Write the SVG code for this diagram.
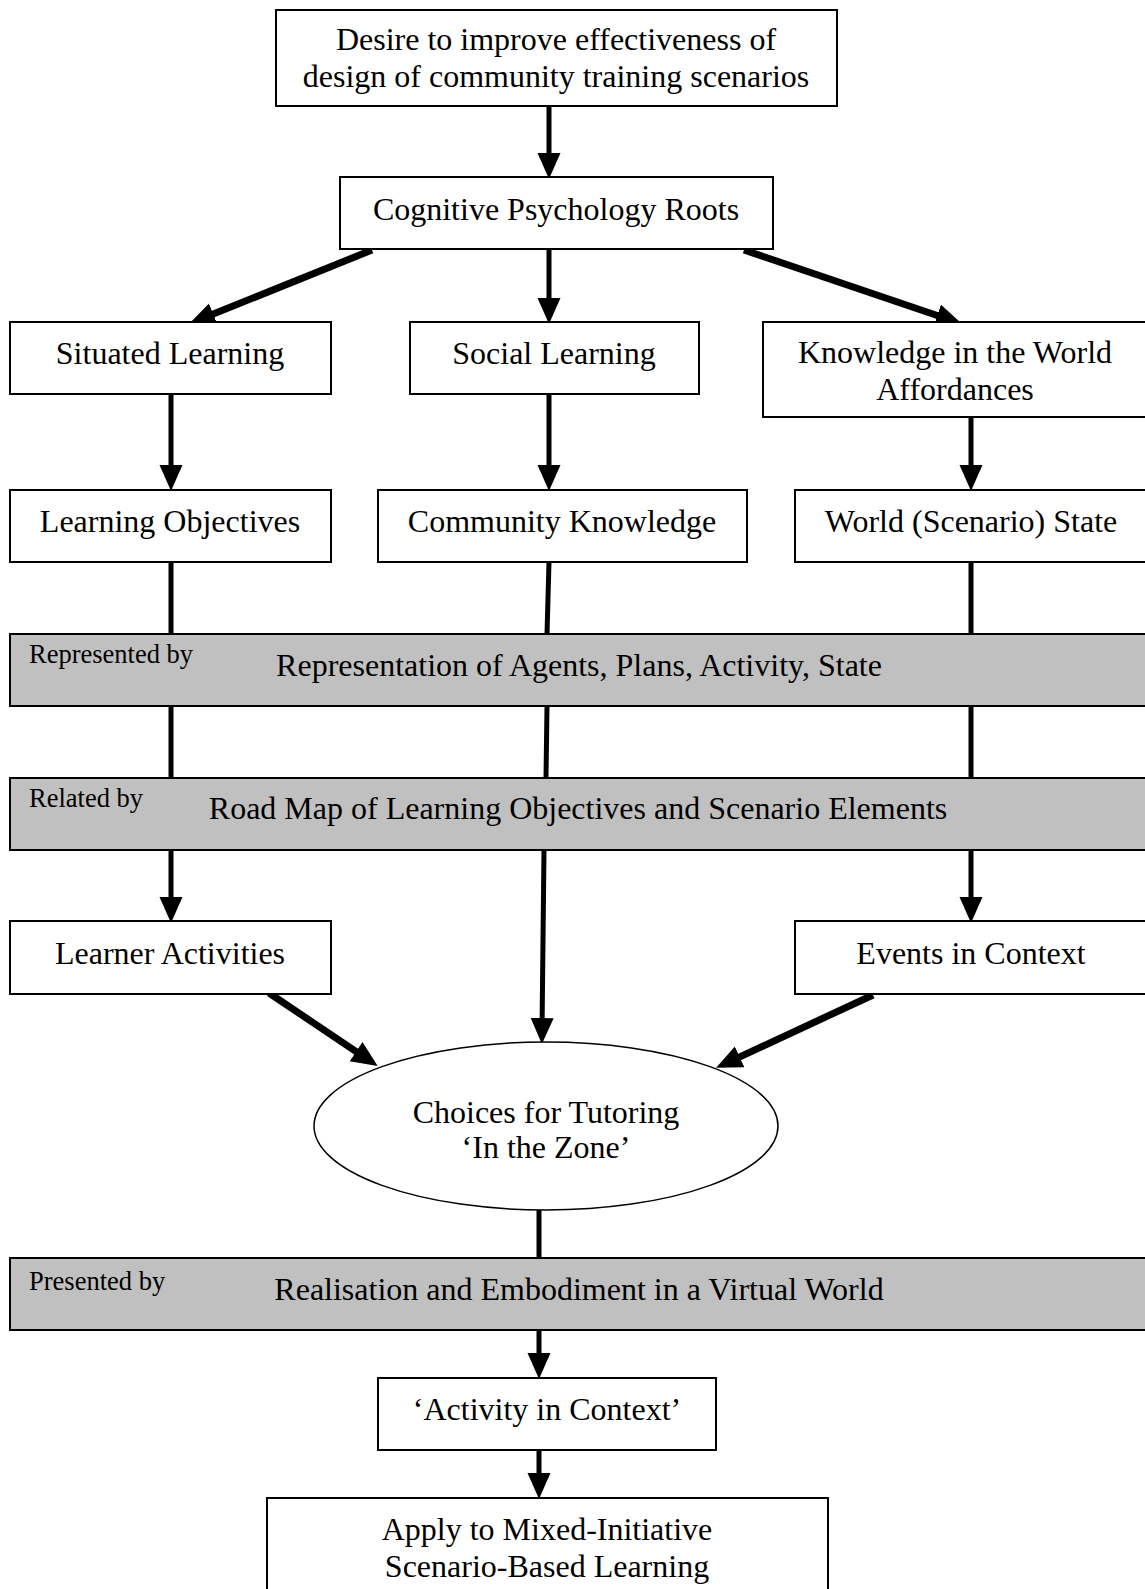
<svg xmlns="http://www.w3.org/2000/svg" width="1145" height="1589" viewBox="0 0 1145 1589">
<style>
.box{fill:#fff;stroke:#000;stroke-width:2}
.band{fill:#c0c0c0;stroke:#000;stroke-width:2}
.t{font-family:"Liberation Serif","Times New Roman",serif;font-size:32px;fill:#000;text-anchor:middle}
.s{font-family:"Liberation Serif","Times New Roman",serif;font-size:26.5px;fill:#000}
.c{stroke:#000;stroke-width:5;fill:none}
.cd{stroke:#000;stroke-width:7;fill:none}
</style>
<defs>
<marker id="ah" markerUnits="userSpaceOnUse" markerWidth="26" markerHeight="24" refX="14" refY="11.5" orient="auto" viewBox="0 0 26 24">
<path d="M0,0 L26,11.5 L0,23 z" fill="#000"/>
</marker>
</defs>
<rect width="1145" height="1589" fill="#fff"/>
<g id="connectors">
<line class="c" x1="549" y1="106" x2="549" y2="167" marker-end="url(#ah)"/>
<line class="cd" x1="372" y1="250" x2="200.3" y2="319.3" marker-end="url(#ah)"/>
<line class="c" x1="549" y1="250" x2="549" y2="312" marker-end="url(#ah)"/>
<line class="cd" x1="744" y1="250" x2="950.5" y2="320" marker-end="url(#ah)"/>
<line class="c" x1="171" y1="394" x2="171" y2="479" marker-end="url(#ah)"/>
<line class="c" x1="549" y1="394" x2="549" y2="479" marker-end="url(#ah)"/>
<line class="c" x1="971" y1="417" x2="971" y2="479" marker-end="url(#ah)"/>
<line class="c" x1="171" y1="562" x2="171" y2="634"/>
<line class="c" x1="549" y1="562" x2="547" y2="634"/>
<line class="c" x1="971" y1="562" x2="971" y2="634"/>
<line class="c" x1="171" y1="706" x2="171" y2="778"/>
<line class="c" x1="547" y1="706" x2="546" y2="778"/>
<line class="c" x1="971" y1="706" x2="971" y2="778"/>
<line class="c" x1="171" y1="850" x2="171" y2="911" marker-end="url(#ah)"/>
<line class="c" x1="971" y1="850" x2="971" y2="911" marker-end="url(#ah)"/>
<line class="c" x1="544" y1="850" x2="542" y2="1032" marker-end="url(#ah)"/>
<line class="cd" x1="269" y1="993" x2="367.7" y2="1059.4" marker-end="url(#ah)"/>
<line class="cd" x1="873" y1="995" x2="727" y2="1062.8" marker-end="url(#ah)"/>
<line class="c" x1="539" y1="1210" x2="539" y2="1258"/>
<line class="c" x1="539" y1="1330" x2="539" y2="1367" marker-end="url(#ah)"/>
<line class="c" x1="539" y1="1450" x2="539" y2="1487" marker-end="url(#ah)"/>
</g>
<g id="n-desire">
<rect class="box" x="276" y="10" width="561" height="96"/>
<text class="t" x="556" y="50">Desire to improve effectiveness of</text>
<text class="t" x="556" y="87">design of community training scenarios</text>
</g>
<g id="n-cognitive">
<rect class="box" x="340" y="177" width="433" height="72"/>
<text class="t" x="556" y="220">Cognitive Psychology Roots</text>
</g>
<g id="n-situated">
<rect class="box" x="10" y="322" width="321" height="72"/>
<text class="t" x="170" y="364">Situated Learning</text>
</g>
<g id="n-social">
<rect class="box" x="410" y="322" width="289" height="72"/>
<text class="t" x="554" y="364">Social Learning</text>
</g>
<g id="n-knowledge">
<rect class="box" x="763" y="322" width="386" height="95"/>
<text class="t" x="955" y="363">Knowledge in the World</text>
<text class="t" x="955" y="400">Affordances</text>
</g>
<g id="n-objectives">
<rect class="box" x="10" y="490" width="321" height="72"/>
<text class="t" x="170" y="532">Learning Objectives</text>
</g>
<g id="n-community">
<rect class="box" x="378" y="490" width="369" height="72"/>
<text class="t" x="562" y="532">Community Knowledge</text>
</g>
<g id="n-world">
<rect class="box" x="795" y="490" width="354" height="72"/>
<text class="t" x="971" y="532">World (Scenario) State</text>
</g>
<g id="n-representation">
<rect class="band" x="10" y="634" width="1139" height="72"/>
<text class="s" x="29" y="663">Represented by</text>
<text class="t" x="579" y="676">Representation of Agents, Plans, Activity, State</text>
</g>
<g id="n-roadmap">
<rect class="band" x="10" y="778" width="1139" height="72"/>
<text class="s" x="29" y="807">Related by</text>
<text class="t" x="578" y="819">Road Map of Learning Objectives and Scenario Elements</text>
</g>
<g id="n-learner">
<rect class="box" x="10" y="921" width="321" height="73"/>
<text class="t" x="170" y="964">Learner Activities</text>
</g>
<g id="n-events">
<rect class="box" x="795" y="921" width="354" height="73"/>
<text class="t" x="971" y="964">Events in Context</text>
</g>
<g id="n-choices">
<ellipse cx="546" cy="1126" rx="232" ry="84" fill="#fff" stroke="#000" stroke-width="1.5"/>
<text class="t" x="546" y="1123">Choices for Tutoring</text>
<text class="t" x="546" y="1158">‘In the Zone’</text>
</g>
<g id="n-realisation">
<rect class="band" x="10" y="1258" width="1139" height="72"/>
<text class="s" x="29" y="1290">Presented by</text>
<text class="t" x="579" y="1300">Realisation and Embodiment in a Virtual World</text>
</g>
<g id="n-activity">
<rect class="box" x="378" y="1378" width="338" height="72"/>
<text class="t" x="547" y="1420">‘Activity in Context’</text>
</g>
<g id="n-apply">
<rect class="box" x="267" y="1498" width="561" height="100"/>
<text class="t" x="547" y="1540">Apply to Mixed-Initiative</text>
<text class="t" x="547" y="1577">Scenario-Based Learning</text>
</g>
</svg>
